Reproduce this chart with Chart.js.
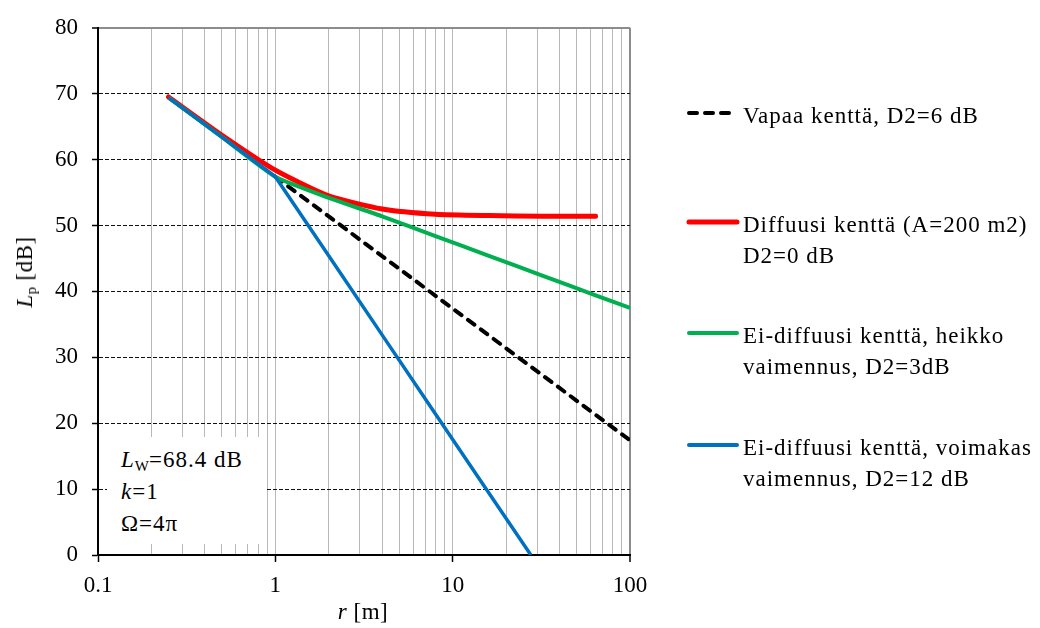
<!DOCTYPE html>
<html>
<head>
<meta charset="utf-8">
<script src="https://cdn.jsdelivr.net/npm/chart.js@4.4.1/dist/chart.umd.min.js"></script>
<style>
  html, body { margin: 0; padding: 0; background: #fff; }
  #wrap { position: relative; width: 1040px; height: 628px; font-family: 'Liberation Serif', 'Times New Roman', serif; color: #000; }
  #c { position: absolute; left: 0; top: 0; }
  .ov { position: absolute; white-space: nowrap; font-size: 23px; letter-spacing: 0.5px; }
  .leg { position: absolute; left: 743px; font-size: 23px; line-height: 31px; letter-spacing: 1px; white-space: nowrap; }
  .sw { position: absolute; left: 686px; }
  #note { position: absolute; left: 107px; top: 437px; width: 160px; height: 107px; background: #fff; }
  #note div { position: absolute; left: 14px; font-size: 23px; line-height: 30px; letter-spacing: 1px; white-space: nowrap; }
  sub { font-size: 15px; vertical-align: -4px; line-height: 0; letter-spacing: 0; }
</style>
</head>
<body>
<div id="wrap">
  <canvas id="c" width="1040" height="628"></canvas>
  <div id="note">
    <div style="top:8px"><i>L</i><sub>W</sub>=68.4 dB</div>
    <div style="top:40px"><i>k</i>=1</div>
    <div style="top:72px">&Omega;=4&pi;</div>
  </div>
  <div class="ov" id="ytitle" style="left:25px;top:272px;transform:translate(-50%,-50%) rotate(-90deg);"><i>L</i><sub>p</sub> [dB]</div>
  <div class="ov" id="xtitle" style="left:363px;top:612px;transform:translate(-50%,-50%);"><i>r</i> [m]</div>
</div>
<script>
/* Lp vs distance, four room-acoustics cases; log x axis */
var FREE_R = [1, 100];
var FREE_LP = [57.4, 17.4];
var DIFF_R = [0.25, 0.5, 1, 2, 4, 8, 16, 32, 64];
var DIFF_LP = [69.5, 63.7, 58.4, 54.5, 52.5, 51.7, 51.5, 51.4, 51.4];
var WEAK_R = [0.25, 0.5, 1, 2, 4, 8, 16, 32, 64, 100];
var WEAK_LP = [69.4, 63.4, 57.4, 54.2, 51.4, 48.4, 45.4, 42.4, 39.4, 37.5];
var STRONG_R = [0.25, 0.5, 1, 2, 4, 8, 16, 27.6];
var STRONG_LP = [69.4, 63.4, 57.4, 45.4, 33.4, 21.4, 9.4, 0];

var X_TICKS = [0.1, 0.2, 0.3, 0.4, 0.5, 0.6, 0.7, 0.8, 0.9, 1, 2, 3, 4, 5, 6, 7, 8, 9, 10, 20, 30, 40, 50, 60, 70, 80, 90, 100];
var X_LABELS = { '0.1': '0.1', '1': '1', '10': '10', '100': '100' };
var Y_TICKS = [0, 10, 20, 30, 40, 50, 60, 70, 80];

var NAMES = [
  ['Vapaa kenttä, D2=6 dB'],
  ['Diffuusi kenttä (A=200 m2)', 'D2=0 dB'],
  ['Ei-diffuusi kenttä, heikko', 'vaimennus, D2=3dB'],
  ['Ei-diffuusi kenttä, voimakas', 'vaimennus, D2=12 dB']
];
var COLORS = ['#000000', '#ff0000', '#00b050', '#0070c0'];
var LEG_Y = [113, 222, 333, 445];

var FONT = "'Liberation Serif', 'Times New Roman', serif";

function pts(xs, ys) { return xs.map(function (x, i) { return { x: x, y: ys[i] }; }); }

function legend() {
  var wrap = document.getElementById('wrap');
  NAMES.forEach(function (lines, i) {
    var y = LEG_Y[i];
    var t = document.createElement('div');
    t.className = 'leg';
    t.style.top = (y - 13) + 'px';
    t.innerHTML = lines.join('<br>');
    wrap.appendChild(t);
    var s = document.createElementNS('http://www.w3.org/2000/svg', 'svg');
    s.setAttribute('class', 'sw');
    s.setAttribute('width', '56'); s.setAttribute('height', '10');
    s.style.top = (y - 5) + 'px';
    var dash = i === 0 ? ' stroke-dasharray="8 8"' : '';
    var w = i === 1 ? 5 : 4;
    s.innerHTML = '<line x1="3" y1="5" x2="51" y2="5" stroke="' + COLORS[i] + '" stroke-width="' + w + '" stroke-linecap="round"' + dash + '/>';
    wrap.appendChild(s);
  });
}

function start() {
  legend();
  Chart.defaults.font.family = FONT;
  Chart.defaults.color = '#000';
  new Chart(document.getElementById('c'), {
    type: 'scatter',
    data: {
      datasets: [
        { label: NAMES[0].join(' '), data: pts(FREE_R, FREE_LP), showLine: true, borderColor: COLORS[0], borderWidth: 4, borderDash: [8, 8], borderCapStyle: 'round', pointRadius: 0, order: 3 },
        { label: NAMES[1].join(' '), data: pts(DIFF_R, DIFF_LP), showLine: true, borderColor: COLORS[1], borderWidth: 5, borderCapStyle: 'round', borderJoinStyle: 'round', tension: 0.2, pointRadius: 0, order: 2 },
        { label: NAMES[2].join(' '), data: pts(WEAK_R, WEAK_LP), showLine: true, borderColor: COLORS[2], borderWidth: 4, tension: 0.15, pointRadius: 0, order: 1 },
        { label: NAMES[3].join(' '), data: pts(STRONG_R, STRONG_LP), showLine: true, borderColor: COLORS[3], borderWidth: 3.5, pointRadius: 0, order: 0 }
      ]
    },
    options: {
      responsive: false,
      animation: false,
      events: [],
      layout: { padding: { left: 0, top: 18, right: 410, bottom: 0 } },
      plugins: { legend: { display: false }, tooltip: { enabled: false } },
      scales: {
        x: {
          type: 'logarithmic', min: 0.1, max: 100,
          afterBuildTicks: function (s) { s.ticks = X_TICKS.map(function (v) { return { value: v }; }); },
          afterFit: function (s) { s.height = 73; },
          ticks: {
            autoSkip: false, maxRotation: 0, minRotation: 0, padding: 10,
            font: { size: 23, family: FONT }, color: '#000',
            callback: function (v) { return X_LABELS[String(v)] || ''; }
          },
          grid: {
            color: function (c) { var v = c.tick && c.tick.value; if (v === 0.1) { return 'rgba(0,0,0,0)'; } return v === 100 ? '#8c8c8c' : '#b8b8b8'; },
            lineWidth: function (c) { return c.tick && c.tick.value === 100 ? 2 : 1; },
            tickColor: function (c) { var v = c.tick && c.tick.value; return X_LABELS[String(v)] ? '#000' : 'rgba(0,0,0,0)'; },
            tickLength: 7, tickWidth: 1.5
          },
          border: { color: '#000', width: 2 }
        },
        y: {
          min: 0, max: 80,
          afterBuildTicks: function (s) { s.ticks = Y_TICKS.map(function (v) { return { value: v }; }); },
          afterFit: function (s) { s.width = 98; },
          ticks: { padding: 14, font: { size: 23, family: FONT }, color: '#000' },
          grid: {
            color: function (c) { var v = c.tick && c.tick.value; if (v === 0) { return 'rgba(0,0,0,0)'; } return v === 80 ? '#8c8c8c' : '#111'; },
            lineWidth: function (c) { return c.tick && c.tick.value === 80 ? 2 : 1; },
            tickColor: '#000', tickLength: 6, tickWidth: 1.5
          },
          border: {
            color: '#000', width: 2,
            dash: function (c) { var v = c.tick && c.tick.value; return (v > 0 && v < 80) ? [4, 2] : []; }
          }
        }
      }
    }
  });
}

start();
</script>
</body>
</html>
